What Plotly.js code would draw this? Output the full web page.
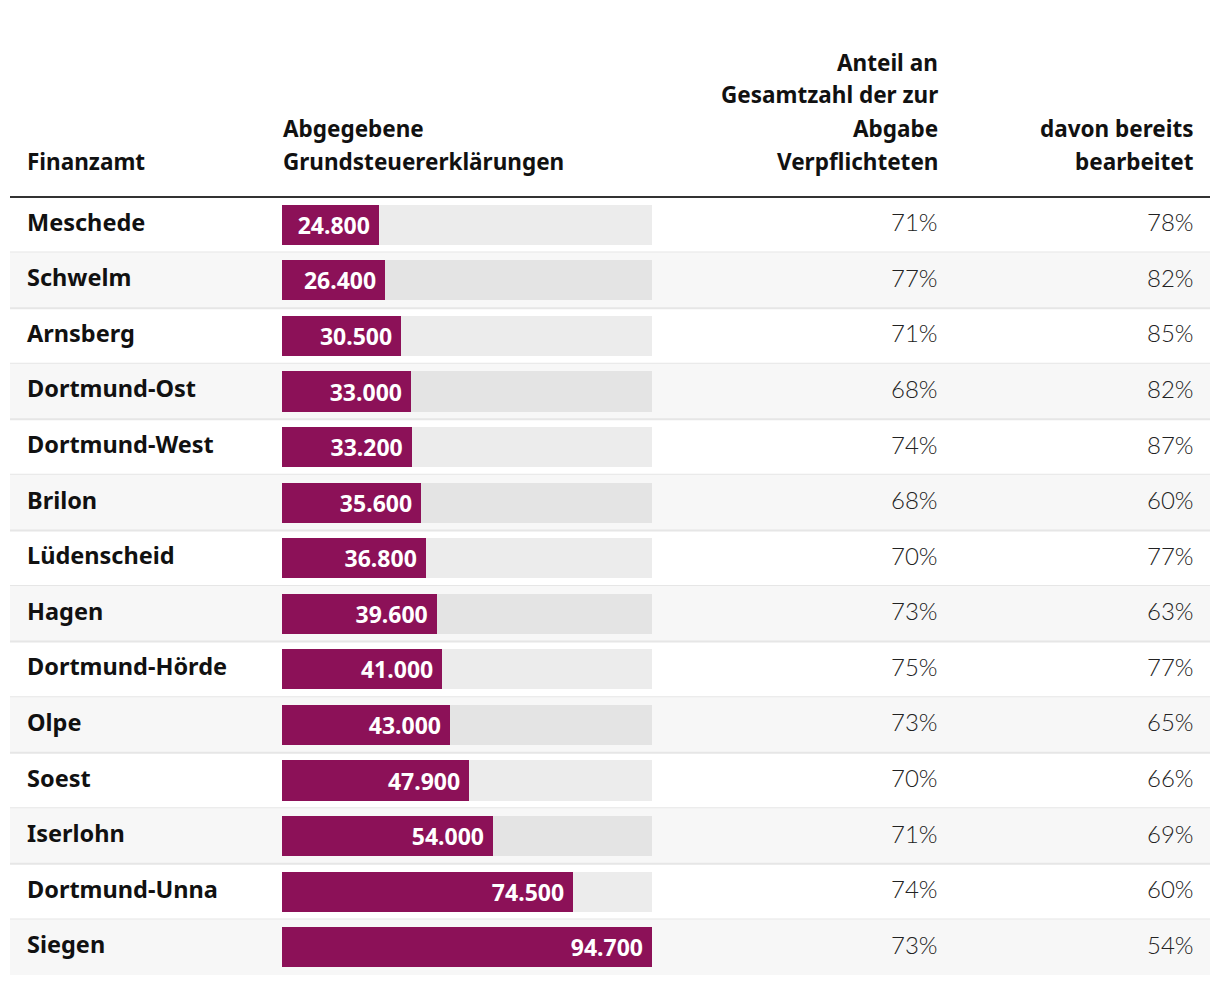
<!DOCTYPE html>
<html><head><meta charset="utf-8">
<script src="https://cdn.plot.ly/plotly-3.0.1.min.js"></script>
<style>html,body{margin:0;padding:0;background:#fff}</style>
</head><body>
<div id="chart" style="width:1220px;height:986px"></div>
<script>
const finanzamt = ["Meschede","Schwelm","Arnsberg","Dortmund-Ost","Dortmund-West","Brilon","Lüdenscheid","Hagen","Dortmund-Hörde","Olpe","Soest","Iserlohn","Dortmund-Unna","Siegen"];
const erklaerungen = [24800,26400,30500,33000,33200,35600,36800,39600,41000,43000,47900,54000,74500,94700];
const anteil = [71,77,71,68,74,68,70,73,75,73,70,71,74,73];
const bearbeitet = [78,82,85,82,87,60,77,63,77,65,66,69,60,54];
const headerName = ["Finanzamt"];
const headerBar = ["Abgegebene", "Grundsteuererklärungen"];
const headerAnteil = ["Anteil an", "Gesamtzahl der zur", "Abgabe", "Verpflichteten"];
const headerBearbeitet = ["davon bereits", "bearbeitet"];

const W = 1220, H = 986;
const px = v => v / W;
const py = v => (H - v) / H;
const BOLD = "'Noto Sans', sans-serif";
const LIGHT = "Lato, 'Open Sans', sans-serif";
const maxVal = Math.max(...erklaerungen);

const traces = [
  {type:'bar', orientation:'h', y:finanzamt, x:finanzamt.map(()=>maxVal),
   marker:{color:'rgba(0,0,0,0.075)'}, width:0.72, hoverinfo:'skip', showlegend:false},
  {type:'bar', orientation:'h', y:finanzamt, x:erklaerungen,
   marker:{color:'#8c1158'}, width:0.72, showlegend:false,
   texttemplate:'%{x:,.0f}\u00a0', textposition:'inside', insidetextanchor:'end',
   constraintext:'none',
   textfont:{family:BOLD, size:23, color:'#fff', weight:700, stretch:'extra-condensed'}}
];

const shapes = [];
finanzamt.forEach((n,i)=>{
  if (i % 2 === 1) shapes.push({type:'rect', layer:'below', xref:'paper', yref:'y',
    x0:px(10), x1:px(1210), y0:i-0.5, y1:i+0.5, fillcolor:'#f7f7f7', line:{width:0}});
  if (i < finanzamt.length-1) shapes.push({type:'line', layer:'below', xref:'paper', yref:'y',
    x0:px(10), x1:px(1210), y0:i+0.5, y1:i+0.5, line:{color:'#e6e6e6', width:2}});
});
shapes.push({type:'line', xref:'paper', yref:'paper', x0:px(10), x1:px(1210), y0:py(197), y1:py(197), line:{color:'#333', width:2}});

const annotations = [];
finanzamt.forEach((n,i)=>{
  annotations.push({xref:'paper', yref:'y', x:px(25), y:n, yshift:3, xanchor:'left', yanchor:'middle', showarrow:false,
    text:n, font:{family:BOLD, size:23.5, color:'#111', weight:700, stretch:'extra-condensed'}});
  annotations.push({xref:'paper', yref:'y', x:px(940), y:n, yshift:3, xanchor:'right', yanchor:'middle', showarrow:false,
    text:anteil[i]+'%', font:{family:LIGHT, size:24, color:'#222', weight:300}});
  annotations.push({xref:'paper', yref:'y', x:px(1196), y:n, yshift:3, xanchor:'right', yanchor:'middle', showarrow:false,
    text:bearbeitet[i]+'%', font:{family:LIGHT, size:24, color:'#222', weight:300}});
});
const hf = {family:BOLD, size:22.5, color:'#111', weight:700, stretch:'extra-condensed'};
function headerLines(lines, x, anchor) {
  const n = lines.length;
  lines.forEach((t, k) => {
    const yc = 161 - (n - 1 - k) * 33;
    annotations.push({xref:'paper', yref:'paper', x:px(x), y:py(yc), xanchor:anchor, yanchor:'middle',
      showarrow:false, text:t, font:hf});
  });
}
headerLines(headerName, 25, 'left');
headerLines(headerBar, 281, 'left');
headerLines(headerAnteil, 940, 'right');
headerLines(headerBearbeitet, 1196, 'right');

const layout = {
  width:W, height:H, margin:{l:0,r:0,t:0,b:0},
  paper_bgcolor:'#fff', plot_bgcolor:'rgba(0,0,0,0)',
  barmode:'overlay', separators:',.', bargap:0,
  xaxis:{domain:[px(282), px(652)], range:[0, maxVal], visible:false, fixedrange:true},
  yaxis:{domain:[py(975), py(197)], type:'category', categoryorder:'array', categoryarray:finanzamt,
    autorange:'reversed', visible:false, fixedrange:true},
  shapes, annotations, showlegend:false
};
Plotly.newPlot('chart', traces, layout, {displayModeBar:false, staticPlot:true});
</script>
</body></html>
